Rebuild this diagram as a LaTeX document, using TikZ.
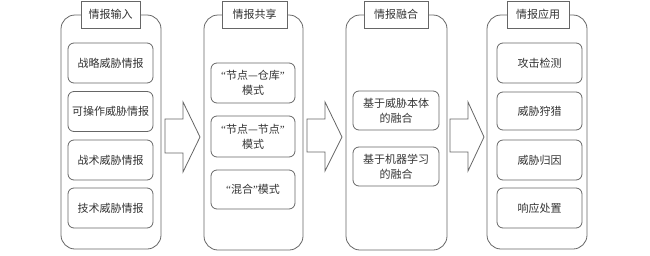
\documentclass[tikz,border=0pt]{standalone}
\usepackage{fontspec}
\setmainfont{Noto Sans CJK SC}
\newfontfamily\qfont{Liberation Serif}
\newcommand{\myLq}{{\qfont “}}
\newcommand{\myRq}{{\qfont ”}}
\begin{document}
\begin{tikzpicture}[x=1pt,y=-1pt,
  line width=0.8pt,
  every node/.style={font=\fontsize{11}{15}\selectfont, text=black!80, align=center, inner sep=0pt},
  outerbox/.style={draw=black!60, rounded corners=14pt, minimum width=100pt, minimum height=234pt},
  titlebox/.style={draw=black!60, fill=white, minimum height=27pt},
  innerbox/.style={draw=black!60, rounded corners=6pt, minimum width=85pt, minimum height=40pt},
  bigarrow/.style={draw=black!60, fill=white, line join=miter}]
\useasboundingbox (0,0) rectangle (650,255);
% column 1
\node[outerbox] (o1) at (111,132) {};
\node[titlebox, minimum width=59pt] (t1) at (110.5,14.5) {情报输入};
\node[innerbox] (a1) at (110.5,63) {战略威胁情报};
\node[innerbox] (a2) at (110.5,111.5) {可操作威胁情报};
\node[innerbox] (a3) at (110.5,160) {战术威胁情报};
\node[innerbox] (a4) at (110.5,208) {技术威胁情报};
% column 2
\node[outerbox, minimum width=99pt, minimum height=235pt] (o2) at (253.5,132.5) {};
\node[titlebox, minimum width=65pt] (t2) at (254.5,14.5) {情报共享};
\node[innerbox, minimum width=84pt] (b1) at (253,83) {\myLq 节点—仓库\myRq\\模式};
\node[innerbox, minimum width=84pt, minimum height=41pt] (b2) at (253,136.5) {\myLq 节点—节点\myRq\\模式};
\node[innerbox, minimum width=84pt, minimum height=39pt] (b3) at (253,189.5) {\myLq 混合\myRq 模式};
% column 3
\node[outerbox, minimum width=101pt, minimum height=235pt] (o3) at (396.5,132.5) {};
\node[titlebox, minimum width=64pt] (t3) at (396,14.5) {情报融合};
\node[innerbox, minimum width=86pt, minimum height=39pt] (c1) at (396,110.5) {基于威胁本体\\的融合};
\node[innerbox, minimum width=86pt, minimum height=39pt] (c2) at (396,166.5) {基于机器学习\\的融合};
% column 4
\node[outerbox] (o4) at (537,132) {};
\node[titlebox, minimum width=62pt] (t4) at (538,14.5) {情报应用};
\node[innerbox] (d1) at (539.5,63) {攻击检测};
\node[innerbox, minimum height=38pt] (d2) at (539.5,111) {威胁狩猎};
\node[innerbox] (d3) at (539.5,160) {威胁归因};
\node[innerbox] (d4) at (539.5,208) {响应处置};
% block arrows
\draw[bigarrow] (165,119) -- (183,119) -- (183,102) -- (200,137) -- (183,172) -- (183,153) -- (165,153) -- cycle;
\draw[bigarrow] (307,119) -- (325,119) -- (325,102) -- (342,137) -- (325,171) -- (325,152) -- (307,152) -- cycle;
\draw[bigarrow] (450,119) -- (468,119) -- (468,102) -- (484,137) -- (468,171) -- (468,152) -- (450,152) -- cycle;
\end{tikzpicture}
\end{document}
